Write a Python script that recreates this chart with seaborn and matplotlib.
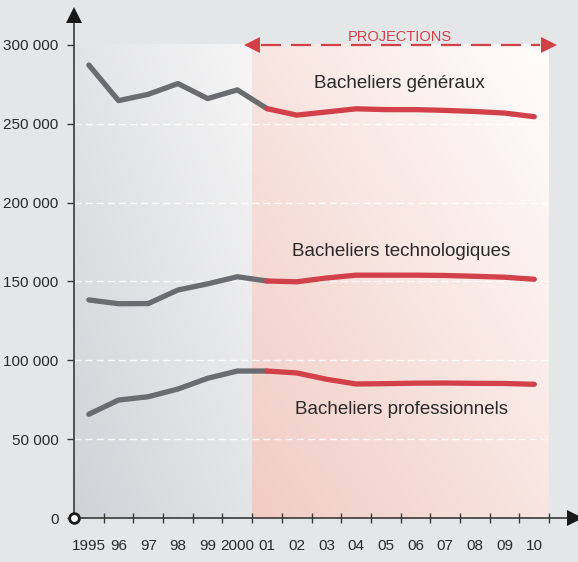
import numpy as np
import pandas as pd
import matplotlib
matplotlib.use("Agg")
import matplotlib.pyplot as plt
from matplotlib import font_manager
import seaborn as sns

# values (number of bacheliers)
years = ["1995", "96", "97", "98", "99", "2000", "01", "02", "03", "04",
         "05", "06", "07", "08", "09", "10"]
generaux = [287300, 264700, 268700, 275500, 266000, 271500, 259600, 255500,
            257500, 259500, 259000, 259000, 258500, 257800, 256800, 254500]
techno = [138300, 135900, 136000, 144600, 148500, 153000, 150300, 149800,
          152200, 154000, 154000, 154000, 153800, 153300, 152700, 151400]
pro = [65800, 74800, 76900, 81800, 88600, 93200, 93200, 92000,
       88000, 85000, 85200, 85500, 85600, 85400, 85300, 84800]
series_names = ["Bacheliers généraux", "Bacheliers technologiques",
                "Bacheliers professionnels"]
yticks = [0, 50000, 100000, 150000, 200000, 250000, 300000]
ytick_labels = ["0", "50 000", "100 000", "150 000", "200 000", "250 000", "300 000"]
first_proj = 6  # 2001 = first projected year

sns.set_theme(style="white")
names = {f.name for f in font_manager.fontManager.ttflist}
fam = "Liberation Sans Narrow" if "Liberation Sans Narrow" in names else "Liberation Sans"
plt.rcParams["font.family"] = [fam, "DejaVu Sans"]

rows = []
for name, vals in zip(series_names, [generaux, techno, pro]):
    for i, v in enumerate(vals):
        if i <= first_proj:
            rows.append((name, "obs", i, v))
        if i >= first_proj:
            rows.append((name, "proj", i, v))
df = pd.DataFrame(rows, columns=["serie", "phase", "idx", "value"])

fig = plt.figure(figsize=(5.78, 5.62), dpi=100)
fig.patch.set_facecolor("#e5e6e8")
ax = fig.add_axes([74 / 578, 44 / 562, 501 / 578, 503 / 562])
ax.patch.set_alpha(0)

n = len(years)
ymax = 319000
ax.set_xlim(-0.5, 16.37)
ax.set_ylim(0, ymax)

# background panels (gradients)
gx, gy = np.meshgrid(np.linspace(0, 1, 100), np.linspace(0, 1, 100))
g = (gx + gy) / 2
gray_img = np.zeros((100, 100, 3))
c0, c1 = np.array([0.82, 0.825, 0.835]), np.array([0.965, 0.965, 0.968])
for k in range(3):
    gray_img[..., k] = c0[k] + (c1[k] - c0[k]) * g
ax.imshow(gray_img, extent=(-0.5, first_proj - 0.5, 0, 300000), origin="lower",
          aspect="auto", zorder=0)
pink_img = np.zeros((100, 100, 3))
p0, p1 = np.array([0.945, 0.80, 0.77]), np.array([1.0, 0.995, 0.99])
for k in range(3):
    pink_img[..., k] = p0[k] + (p1[k] - p0[k]) * g
ax.imshow(pink_img, extent=(first_proj - 0.5, n - 0.5, 0, 300000), origin="lower",
          aspect="auto", zorder=0)

# grid
for yv in yticks[1:-1]:
    ax.plot([-0.5, n - 0.5], [yv, yv], color="white", lw=1, ls=(0, (5, 3)),
            alpha=0.9, zorder=1)

sns.lineplot(data=df, x="idx", y="value", hue="phase", units="serie",
             estimator=None, palette={"obs": "#6b6c6f", "proj": "#d2404a"},
             lw=3.8, legend=False, ax=ax, zorder=3,
             solid_capstyle="round")

# labels on the series
lab_kw = dict(ha="center", va="center", fontsize=13.5, color="#2a2a2a")
ax.text(10.44, 275300, series_names[0], **lab_kw)
ax.text(10.5, 169300, series_names[1], **lab_kw)
ax.text(10.54, 69100, series_names[2], **lab_kw)

# projections arrow
red = "#d2404a"
ax.plot([first_proj - 0.2, n - 0.8], [300000, 300000], color=red, lw=1.6,
        ls=(0, (9, 4.5)), zorder=4, clip_on=False)
ax.plot([first_proj - 0.5], [300000], marker="<", ms=11, color=red,
        markeredgewidth=0, clip_on=False, zorder=4)
ax.plot([n - 0.5], [300000], marker=">", ms=11, color=red,
        markeredgewidth=0, clip_on=False, zorder=4)
ax.text(10.47, 300500, "PROJECTIONS", ha="center", va="bottom", fontsize=10.5,
        color=red, zorder=5)

# axes
for s in ["top", "right"]:
    ax.spines[s].set_visible(False)
for s in ["left", "bottom"]:
    ax.spines[s].set_color("#3a3a3a")
    ax.spines[s].set_linewidth(1.2)
ax.plot(16.37, 0, marker=">", ms=12, color="#1a1a1a", clip_on=False,
        markeredgewidth=0, zorder=6)
ax.plot(-0.5, ymax, marker="^", ms=12, color="#1a1a1a", clip_on=False,
        markeredgewidth=0, zorder=6)
ax.plot(-0.5, 0, marker="o", ms=7, mfc="white", mec="#1a1a1a", mew=2,
        clip_on=False, zorder=7)

ax.set_yticks(yticks)
ax.set_yticklabels(ytick_labels)
ax.tick_params(axis="y", direction="out", length=5, width=1, color="#3a3a3a",
               labelsize=11, labelcolor="#2a2a2a", pad=6, left=True)
ax.set_xticks(range(n))
ax.set_xticklabels(years)
ax.set_xticks(np.arange(-0.5, n + 0.5, 1), minor=True)
ax.tick_params(axis="x", which="major", length=0, labelsize=11,
               labelcolor="#2a2a2a", pad=15)
ax.tick_params(axis="x", which="minor", direction="inout", length=7, width=1,
               color="#3a3a3a", bottom=True)
ax.set_xlabel("")
ax.set_ylabel("")

plt.savefig("out.png", dpi=100, facecolor=fig.get_facecolor())
